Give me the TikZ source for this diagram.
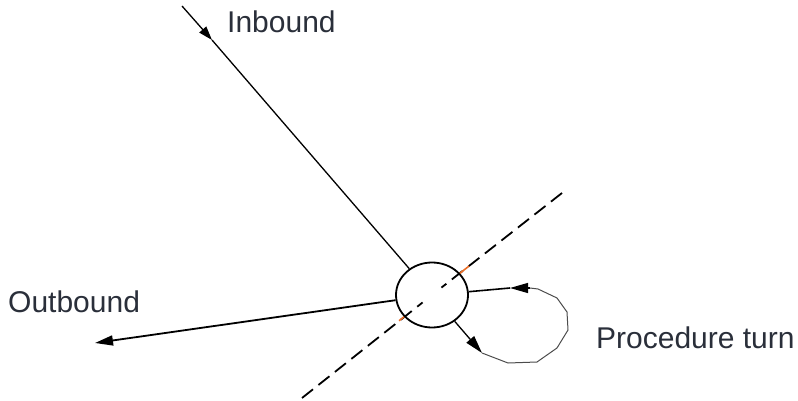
\documentclass[tikz,border=0pt]{standalone}
\usepackage{fontspec}
\setmainfont{Liberation Sans}
\usetikzlibrary{shapes.geometric,arrows.meta,calc}

\definecolor{labeltext}{RGB}{42,47,58}
\definecolor{fixorange}{RGB}{235,110,40}

\tikzset{
  fixcircle/.style={draw,ellipse,line width=1.8pt,minimum width=72pt,minimum height=65pt,inner sep=0pt},
  legline/.style={line width=1.3pt},
  turnline/.style={draw=black!70,line width=1pt},
  dashline/.style={line width=1.8pt,dash pattern=on 14pt off 7pt},
  tip/.style={-{Triangle[length=18pt,width=10pt]}},
  smalltip/.style={-{Triangle[length=14pt,width=9pt]}},
  lbl/.style={text=labeltext,font=\fontsize{30}{35}\selectfont,anchor=base west,inner sep=0pt}
}

\begin{document}
\begin{tikzpicture}[x=1pt,y=-1pt]
\useasboundingbox (0,0) rectangle (798,401);

\node[fixcircle] (fix) at (432,295) {};

% labels
\node[lbl] (inbound) at (227,33) {Inbound};
\node[lbl] (outbound) at (8,312) {Outbound};
\node[lbl] (procturn) at (596,348) {Procedure turn};

% the dashed line through the fix
\coordinate (dashU) at (562,193);
\coordinate (dashL) at (302,398);
\draw[dashline,shorten >=12pt] (dashU) -- (fix.center);
\draw[dashline,shorten >=12pt] (dashL) -- (fix.center);
\draw[fixorange,line width=1.6pt] (fix.38) -- ($(fix.center)!1.33!(fix.38)$);
\draw[fixorange,line width=1.6pt] (fix.218) -- ($(fix.center)!1.18!(fix.218)$);

% inbound leg
\coordinate (inS) at (182,6);
\coordinate (inA) at (212,40);
\draw[legline,smalltip] (inS) -- (inA);
\draw[legline] (inA) -- (fix);

% outbound leg
\coordinate (outE) at (95,343);
\draw[line width=1.8pt,tip] (fix) -- (outE);

% procedure turn
\coordinate (pt1) at (482,353);
\coordinate (pt2) at (508,363);
\coordinate (pt3) at (537,362);
\coordinate (pt4) at (557,348);
\coordinate (pt5) at (568,330);
\coordinate (pt6) at (567,312);
\coordinate (pt7) at (557,298);
\coordinate (pt8) at (538,289);
\coordinate (pt9) at (530,288);
\coordinate (pt10) at (510,288);
\draw[legline,tip] (fix) -- (pt1);
\draw[turnline] (pt1) -- (pt2) -- (pt3) -- (pt4) -- (pt5) -- (pt6) -- (pt7) -- (pt8) -- (pt9);
\draw[legline,tip] (pt9) -- (pt10);
\draw[line width=1.6pt] (pt10) -- (fix);
\end{tikzpicture}
\end{document}
